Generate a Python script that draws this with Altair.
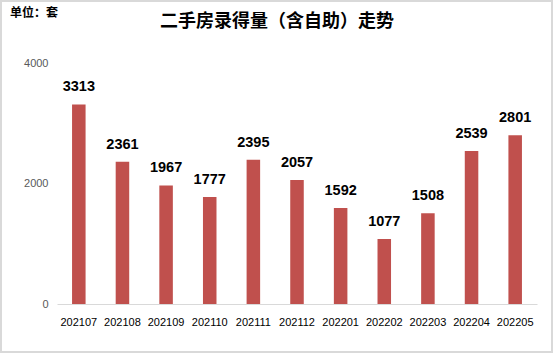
import altair as alt
import pandas as pd

months = ["202107", "202108", "202109", "202110", "202111", "202112",
          "202201", "202202", "202203", "202204", "202205"]
volumes = [3313, 2361, 1967, 1777, 2395, 2057, 1592, 1077, 1508, 2539, 2801]
y_ticks = [0, 2000, 4000]
title_text = "二手房录得量（含自助）走势"
unit_text = "单位：套"

df = pd.DataFrame({"month": months, "volume": volumes})

W, H = 480, 241
font = "Noto Sans CJK SC"

x = alt.X("month:N", sort=months, title=None,
          scale=alt.Scale(paddingInner=0.69, paddingOuter=0.345),
          axis=alt.Axis(labelAngle=0, ticks=False, domainColor="#d9d9d9",
                        labelFont="Liberation Sans", labelFontSize=11, labelColor="#000000",
                        labelPadding=12))
y = alt.Y("volume:Q", title=None,
          scale=alt.Scale(domain=[0, 4000], nice=False),
          axis=alt.Axis(values=y_ticks, format="d", grid=False, domain=False, ticks=False,
                        labelFont="Liberation Sans", labelFontSize=11, labelColor="#595959",
                        labelPadding=9))

base = alt.Chart(df)
bars = base.mark_bar(color="#C0504D").encode(x=x, y=y)
labels = base.mark_text(dy=-17, fontWeight="bold", fontSize=14.5,
                        font="Liberation Sans", color="#000000").encode(
    x=alt.X("month:N", sort=months), y="volume:Q", text="volume:Q")

frame = alt.Chart(pd.DataFrame({"t": [0]})).mark_rect(
    fill=None, stroke="#d9d9d9", strokeWidth=2, clip=False).encode(
    x=alt.value(-56), x2=alt.value(W + 15), y=alt.value(-62), y2=alt.value(H + 48))

title = alt.Chart(pd.DataFrame({"t": [title_text]})).mark_text(
    font=font, fontSize=18, fontWeight="bold", color="#000000", baseline="middle").encode(
    x=alt.value(277 - 57), y=alt.value(22 - 63), text="t:N")

unit = alt.Chart(pd.DataFrame({"t": [unit_text]})).mark_text(
    font=font, fontSize=12, fontWeight="bold", color="#000000", align="left",
    baseline="middle").encode(
    x=alt.value(10 - 57), y=alt.value(13 - 63), text="t:N")

chart = alt.layer(frame, bars, labels, title, unit).properties(
    width=W, height=H,
    autosize=alt.AutoSizeParams(type="none"),
    padding={"left": 57, "top": 63, "right": 16, "bottom": 50},
    background="white",
).configure_view(stroke=None)

chart.save("out.html", embed_options={"renderer": "svg", "actions": False})
